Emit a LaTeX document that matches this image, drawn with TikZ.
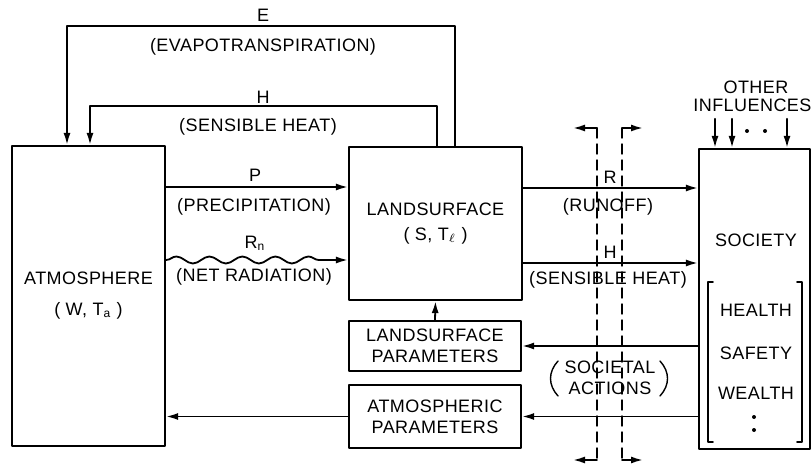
\documentclass[tikz,border=0pt]{standalone}
\usepackage{fontspec}
\setmainfont{Liberation Sans}[LetterSpace=2.5]
\usetikzlibrary{arrows.meta,calc,positioning,decorations.pathmorphing}
\tikzset{
  box/.style={draw,line width=1.1pt,inner sep=0pt,align=center},
  flow/.style={line width=0.9pt,-{Latex[length=6pt,width=3.5pt]}},
  cutline/.style={line width=0.7pt,dash pattern=on 5pt off 3pt},
  lbl/.style={inner sep=0pt,align=center}
}

\begin{document}
\begin{tikzpicture}[x=0.5pt,y=-0.5pt,line cap=round,line join=round,font=\fontsize{9}{10.5}\selectfont]
  \useasboundingbox (0,0) rectangle (812,469);
  % boxes
  \node[box,minimum width=76.5pt,minimum height=150pt] (atm) at (88.5,296) {ATMOSPHERE\\[5pt]( W, T\textsubscript{a} )};
  \node[box,minimum width=86.5pt,minimum height=76.5pt] (land) at (435.5,223.5) {LANDSURFACE\\[2pt]( S, T$_\ell$ )};
  \node[box,minimum width=86pt,minimum height=25pt] (lpar) at (435,346) {LANDSURFACE\\PARAMETERS};
  \node[box,minimum width=86pt,minimum height=31.5pt] (apar) at (435,416.5) {ATMOSPHERIC\\PARAMETERS};
  \node[box,minimum width=55.5pt,minimum height=150pt] (soc) at (754.5,299) {};
  % society contents
  \node[lbl] (socTxt) at (756,240) {SOCIETY};
  \node[lbl] (health) at (756,310) {HEALTH};\node[lbl] (safety) at (756,353) {SAFETY};\node[lbl] (wealth) at (756,393) {WEALTH};
  \foreach \y in {417,430}{\fill (754,\y) circle (2);}
  \draw[line width=0.8pt] (713,282) -- (708,282) -- (708,442) -- (713,442);
  \draw[line width=0.8pt] (797,282) -- (802,282) -- (802,442) -- (797,442);
  % other influences
  \node[lbl] (other) at (756,87) {OTHER};\node[lbl,anchor=west] (infl) at (693,105) {INFLUENCES};
  \foreach \dx in {-19.75,-11.25,16.25}{\draw[flow] ([xshift=\dx pt,yshift=14.5pt]soc.north) -- ([xshift=\dx pt]soc.north);}
  \foreach \x in {747,765}{\fill (\x,131) circle (2);}
  % feedback loops to the atmosphere
  \draw[flow] ([xshift=9.75pt]land.north) -- ++(0,-120) -| ([xshift=-10.75pt]atm.north);
  \draw[flow] ([xshift=0.75pt]land.north) -- ++(0,-40) -| ([xshift=0.75pt]atm.north);
  \node[lbl] (eLbl) at (263,15) {E};\node[lbl] (eTxt) at (263,47) {(EVAPOTRANSPIRATION)};
  \node[lbl] (hLbl) at (263,97) {H};\node[lbl] (hTxt) at (258,127) {(SENSIBLE HEAT)};
  % atmosphere to landsurface
  \draw[flow] ([yshift=18.25pt]land.west -| atm.east) -- ([yshift=18.25pt]land.west);
  \draw[flow,decorate,decoration={snake,amplitude=1.75pt,segment length=16.5pt,post length=7pt}] ([yshift=-18.25pt]land.west -| atm.east) -- ([yshift=-18.25pt]land.west);
  \node[lbl] (pLbl) at (255,175) {P};\node[lbl] (pTxt) at (254,207) {(PRECIPITATION)};
  \node[lbl] (rnLbl) at (255,243) {R\textsubscript{n}};\node[lbl] (rnTxt) at (254,277) {(NET RADIATION)};
  % landsurface to society
  \draw[flow] ([yshift=17.75pt]land.east) -- ([yshift=17.75pt]land.east -| soc.west);
  \draw[flow] ([yshift=-19.75pt]land.east) -- ([yshift=-19.75pt]land.east -| soc.west);
  \node[lbl] (rLbl) at (610,177) {R};\node[lbl] (rTxt) at (608,207) {(RUNOFF)};
  \node[lbl] (shLbl) at (610,252) {H};\node[lbl] (shTxt) at (608,280) {(SENSIBLE HEAT)};
  % societal actions
  \draw[flow] (soc.west |- lpar.east) -- (lpar.east);
  \draw[flow] (soc.west |- apar.east) -- (apar.east);
  \draw[flow] (apar.west) -- (apar.west -| atm.east);
  \draw[flow] (lpar.north) -- (land.south);
  \node[lbl] (actTxt) at (610,378) {SOCIETAL\\ACTIONS};
  \draw[line width=0.7pt] (558,361) .. controls (548,372) and (548,385) .. (558,396);
  \draw[line width=0.7pt] (660,361) .. controls (670,372) and (670,385) .. (660,396);
  % cut lines
  \coordinate (cutLt) at (597,128);\coordinate (cutLb) at (597,460);
  \coordinate (cutRt) at (622,128);\coordinate (cutRb) at (622,460);
  \draw[cutline] (cutLt) -- (cutLb);\draw[cutline] (cutRt) -- (cutRb);
  \draw[flow] (cutLt) -- (573,128);\draw[flow] (cutRt) -- (643,128);
  \draw[flow] (cutLb) -- (573,460);\draw[flow] (cutRb) -- (643,460);
\end{tikzpicture}
\end{document}
